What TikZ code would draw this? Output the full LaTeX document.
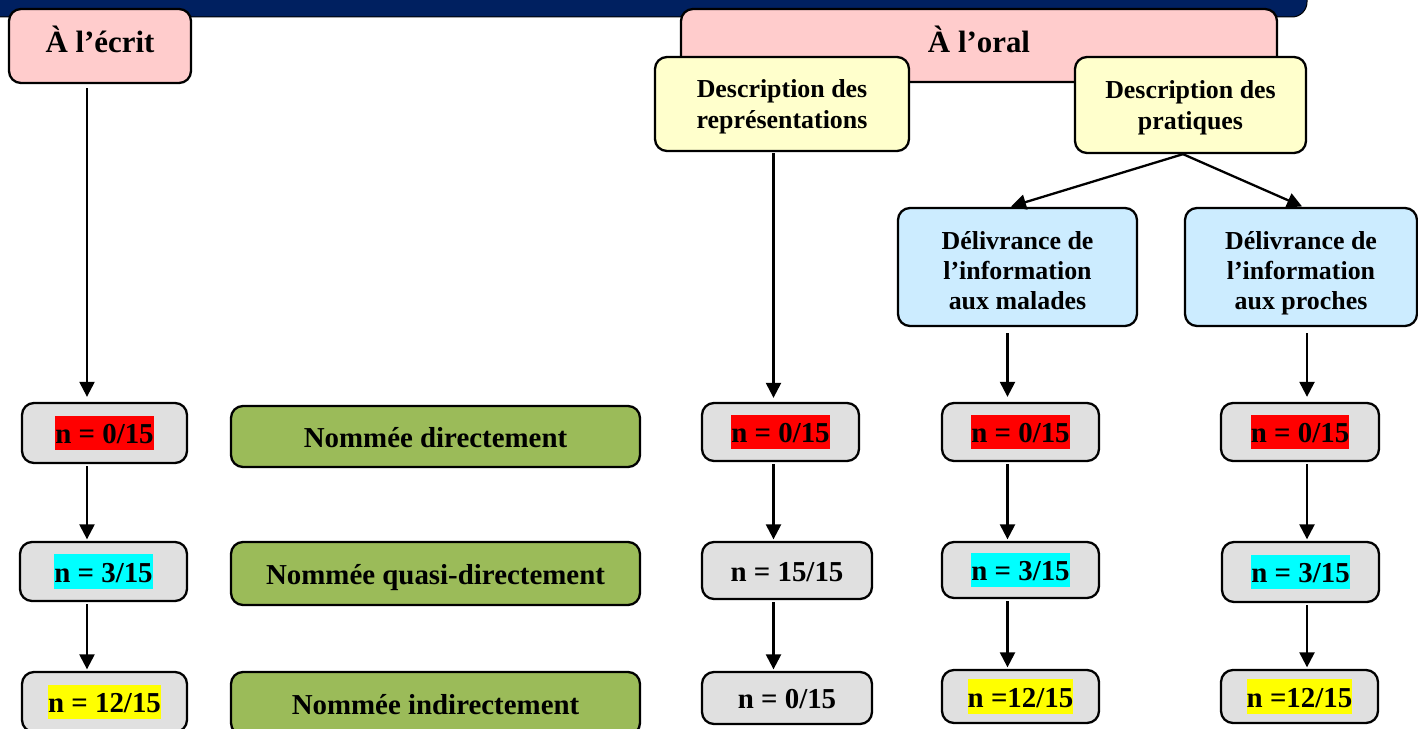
\documentclass[tikz,border=0pt]{standalone}
\usepackage{fontspec}
\setmainfont{Liberation Serif}
\usetikzlibrary{arrows.meta}
\definecolor{navy}{HTML}{002060}
\definecolor{pinkf}{HTML}{FFCCCC}
\definecolor{yelf}{HTML}{FFFFCC}
\definecolor{bluef}{HTML}{CCECFF}
\definecolor{greyf}{HTML}{E0E0E0}
\definecolor{greenf}{HTML}{9BBB59}
\definecolor{hlred}{HTML}{FF0000}
\definecolor{hlcyan}{HTML}{00FFFF}
\definecolor{hlyel}{HTML}{FFFF00}
\newcommand\hlt[2]{{\setlength{\fboxsep}{0pt}\colorbox{#1}{\rule[-0.24em]{0pt}{1.21em}#2}}}
\newcommand\nohl[1]{\rule[-0.24em]{0pt}{1.21em}#1}
\begin{document}
\begin{tikzpicture}[x=1bp,y=-1bp,
  box/.style={draw=black, line width=2.3bp, rounded corners=12bp, inner sep=0pt,
    font=\bfseries\fontsize{29}{34}\selectfont},
  head/.style={box, fill=pinkf, font=\bfseries\fontsize{31}{36}\selectfont,
    text height=21.7bp, text depth=7.7bp},
  ybox/.style={box, fill=yelf, align=center, font=\bfseries\fontsize{26}{32}\selectfont,
    text depth=0bp},
  bbox/.style={box, fill=bluef, align=center, font=\bfseries\fontsize{26}{30}\selectfont,
    text height=85bp, text depth=0bp},
  gbox/.style={box, fill=greyf},
  grn/.style={box, fill=greenf, minimum width=409bp},
  arr/.style={-{Triangle[length=15bp,width=15bp]}, line width=2.3bp,
    shorten >=1.5bp, shorten <=2bp}
]
\useasboundingbox (0,0) rectangle (1418,728);
% banner
\draw[black, fill=navy, line width=1bp, rounded corners=15bp] (-30,-40) rectangle (1307,17);

% headings
\node[head, minimum width=182bp, minimum height=74bp] (ecrit) at (100,46) {À l’écrit};
\node[head, minimum width=596bp, minimum height=73bp, text height=22.5bp, text depth=7.5bp] (oral) at (979,45.5) {À l’oral};

% description boxes
\node[ybox, minimum width=254bp, minimum height=94bp] (rep) at (782,104) {Description des\\représentations};
\node[ybox, minimum width=231bp, minimum height=96bp] (prat) at (1190.5,105) {Description des\\pratiques};

% information boxes
\node[bbox, minimum width=239bp, minimum height=118bp] (mal) at (1017.5,267) {Délivrance de\\l’information\\aux malades};
\node[bbox, minimum width=232bp, minimum height=118bp] (pro) at (1301,267) {Délivrance de\\l’information\\aux proches};

% column 1
\node[gbox, minimum width=165bp, minimum height=60bp] (a1) at (104.5,433) {\hlt{hlred}{n = 0/15}};
\node[gbox, minimum width=167bp, minimum height=59bp] (a2) at (103.5,571.5) {\hlt{hlcyan}{n = 3/15}};
\node[gbox, minimum width=165bp, minimum height=60bp] (a3) at (104.5,702) {\hlt{hlyel}{n = 12/15}};

% green labels
\node[grn, minimum height=61bp] (b1) at (435.5,436.5) {\nohl{Nommée directement}};
\node[grn, minimum height=63bp] (b2) at (435.5,573.5) {\nohl{Nommée quasi-directement}};
\node[grn, minimum height=63bp] (b3) at (435.5,703.5) {\nohl{Nommée indirectement}};

% column 3
\node[gbox, minimum width=157bp, minimum height=58bp] (c31) at (780.5,432) {\hlt{hlred}{n = 0/15}};
\node[gbox, minimum width=170bp, minimum height=57bp] (c32) at (787,570.5) {\nohl{n = 15/15}};
\node[gbox, minimum width=170bp, minimum height=52bp] (c33) at (787,698) {\nohl{n = 0/15}};

% column 4
\node[gbox, minimum width=157bp, minimum height=58bp] (c41) at (1020.5,432) {\hlt{hlred}{n = 0/15}};
\node[gbox, minimum width=157bp, minimum height=56bp] (c42) at (1020.5,570) {\hlt{hlcyan}{n = 3/15}};
\node[gbox, minimum width=157bp, minimum height=53bp] (c43) at (1020.5,696.5) {\hlt{hlyel}{n =12/15}};

% column 5
\node[gbox, minimum width=158bp, minimum height=58bp] (c51) at (1300,432) {\hlt{hlred}{n = 0/15}};
\node[gbox, minimum width=157bp, minimum height=60bp] (c52) at (1300.5,572) {\hlt{hlcyan}{n = 3/15}};
\node[gbox, minimum width=157bp, minimum height=53bp] (c53) at (1299.5,696.5) {\hlt{hlyel}{n =12/15}};

% column guides
\coordinate (x1) at (87,0);
\coordinate (x3) at (773.5,0);
\coordinate (x4) at (1007.5,0);
\coordinate (x5) at (1307,0);
\coordinate (xp) at (1183,0);
\coordinate (xl) at (1010,0);
\coordinate (xr) at (1303,0);

% connectors
\draw[arr, shorten <=4bp, shorten >=5bp] (ecrit.south -| x1) -- (a1.north -| x1);
\draw[arr] (a1.south -| x1) -- (a2.north -| x1);
\draw[arr] (a2.south -| x1) -- (a3.north -| x1);

\draw[arr, shorten <=1bp, shorten >=4bp] (rep.south -| x3) -- (c31.north -| x3);
\draw[arr] (c31.south -| x3) -- (c32.north -| x3);
\draw[arr] (c32.south -| x3) -- (c33.north -| x3);

\draw[arr, shorten <=0bp, shorten >=1bp] (prat.south -| xp) -- (mal.north -| xl);
\draw[arr, shorten <=0bp, shorten >=1bp] (prat.south -| xp) -- (pro.north -| xr);

\draw[arr, shorten <=6bp, shorten >=5bp] (mal.south -| x4) -- (c41.north -| x4);
\draw[arr] (c41.south -| x4) -- (c42.north -| x4);
\draw[arr] (c42.south -| x4) -- (c43.north -| x4);

\draw[arr, shorten <=6bp, shorten >=5bp] (pro.south -| x5) -- (c51.north -| x5);
\draw[arr] (c51.south -| x5) -- (c52.north -| x5);
\draw[arr] (c52.south -| x5) -- (c53.north -| x5);
\end{tikzpicture}
\end{document}
